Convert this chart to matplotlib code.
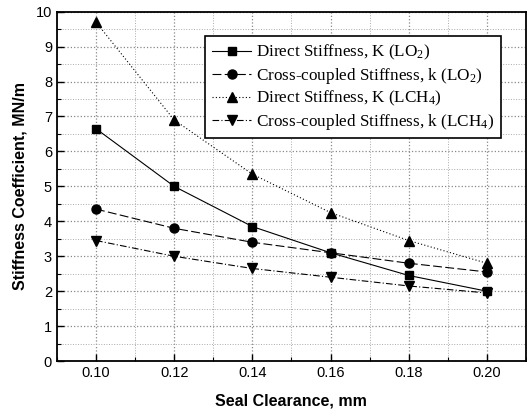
import matplotlib
matplotlib.use("Agg")
import matplotlib.pyplot as plt
from matplotlib.ticker import MultipleLocator

## DATA ##
clearance = [0.10, 0.12, 0.14, 0.16, 0.18, 0.20]

K_LO2 = [6.65, 5.0, 3.85, 3.1, 2.45, 2.0]
k_LO2 = [4.35, 3.8, 3.4, 3.1, 2.8, 2.55]
K_LCH4 = [9.7, 6.9, 5.35, 4.25, 3.45, 2.8]
k_LCH4 = [3.45, 3.0, 2.65, 2.4, 2.15, 1.95]

labels = [
    r"Direct Stiffness, K (LO$_2$)",
    r"Cross-coupled Stiffness, k (LO$_2$)",
    r"Direct Stiffness, K (LCH$_4$)",
    r"Cross-coupled Stiffness, k (LCH$_4$)",
]

plt.rcParams["font.family"] = ["Liberation Sans", "DejaVu Sans"]
plt.rcParams["mathtext.fontset"] = "custom"
plt.rcParams["mathtext.rm"] = "Liberation Serif"
plt.rcParams["mathtext.it"] = "Liberation Serif:italic"

fig = plt.figure(figsize=(5.27, 4.16), dpi=100)
ax = fig.add_axes([0.108, 0.132, 0.890, 0.840])

ax.plot(clearance, K_LO2, color="black", lw=0.8, ls="-", marker="s", ms=6, label=labels[0])
ax.plot(clearance, k_LO2, color="black", lw=0.8, ls=(0, (8, 3)), marker="o", ms=6.5, label=labels[1])
ax.plot(clearance, K_LCH4, color="black", lw=0.8, ls=(0, (1, 2)), marker="^", ms=7, label=labels[2])
ax.plot(clearance, k_LCH4, color="black", lw=0.8, ls=(0, (6, 2, 1, 2)), marker="v", ms=7, label=labels[3])

ax.set_xlim(0.09, 0.21)
ax.set_ylim(0, 10)
ax.xaxis.set_major_locator(MultipleLocator(0.02))
ax.xaxis.set_minor_locator(MultipleLocator(0.01))
ax.yaxis.set_major_locator(MultipleLocator(1))
ax.yaxis.set_minor_locator(MultipleLocator(0.5))
ax.xaxis.set_major_formatter(matplotlib.ticker.FormatStrFormatter("%.2f"))

ax.grid(which="major", color="#888888", ls=":", lw=0.9)
ax.grid(which="minor", color="#aaaaaa", ls=":", lw=0.7)
ax.tick_params(which="both", direction="in", top=False, right=False)
ax.tick_params(which="major", length=5, width=1, labelsize=10.5)
ax.tick_params(which="minor", length=3, width=0.8)
for s in ax.spines.values():
    s.set_linewidth(1.3)

ax.set_xlabel("Seal Clearance, mm", fontsize=11.5, fontweight="bold", labelpad=10)
ax.set_ylabel("Stiffness Coefficient, MN/m", fontsize=11.5, fontweight="bold", labelpad=6)

leg = ax.legend(loc="upper left", bbox_to_anchor=(0.316, 0.93), frameon=True,
                fancybox=False, edgecolor="black", framealpha=1,
                prop={"family": "Liberation Serif", "size": 12.3},
                handlelength=2.3, handletextpad=0.3, borderpad=0.4,
                labelspacing=0.2, borderaxespad=0)
leg.get_frame().set_linewidth(1.2)

fig.savefig("out.png", dpi=100)
